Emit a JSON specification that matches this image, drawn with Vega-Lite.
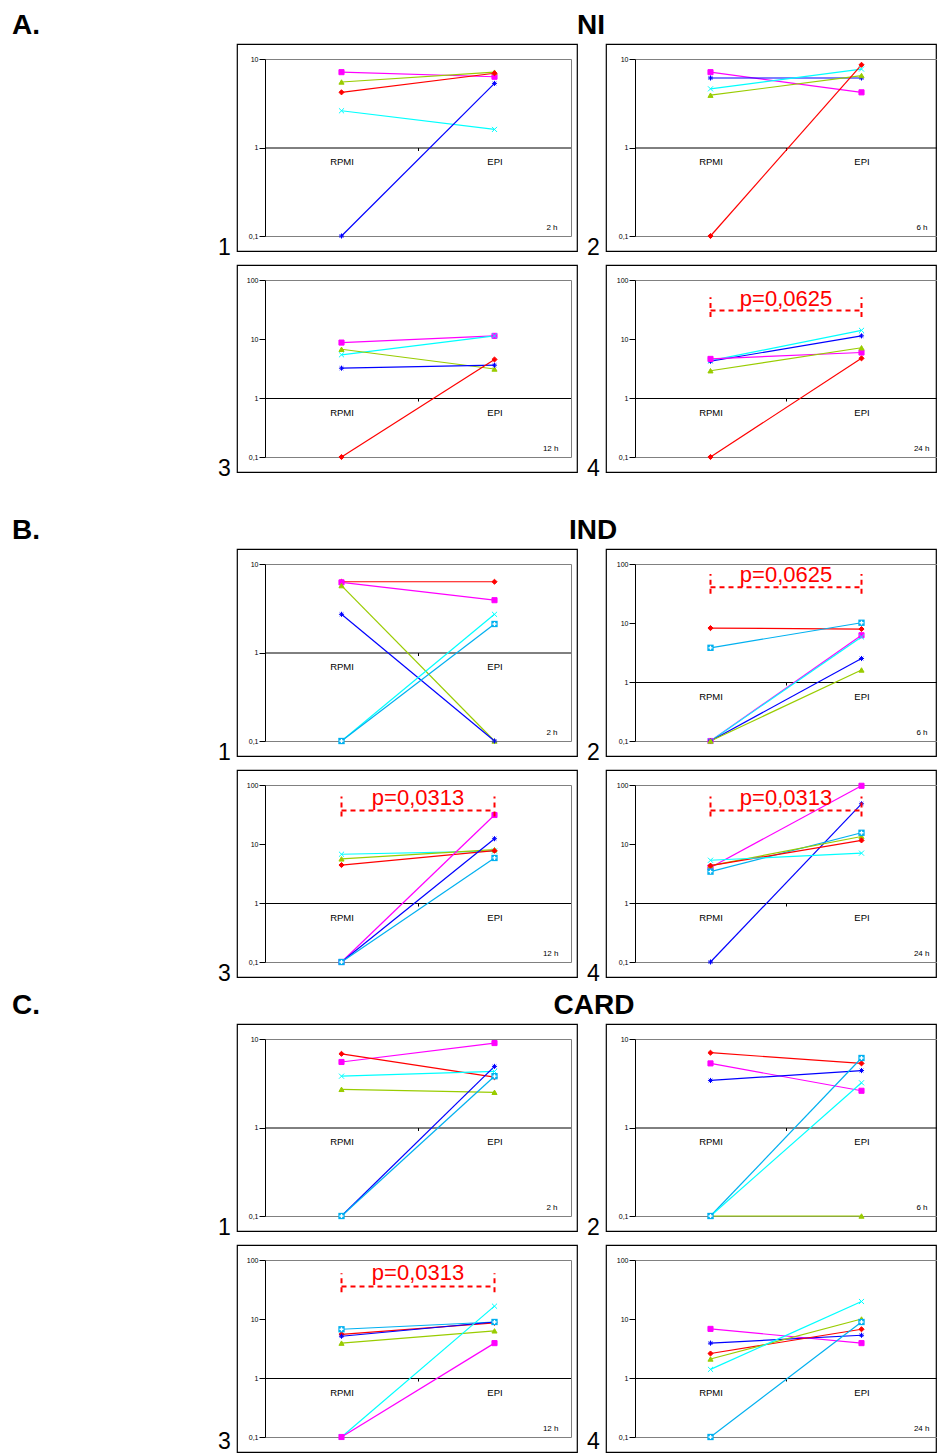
{
"$schema":"https://vega.github.io/schema/vega-lite/v6.json",
"padding":{"left":12,"top":10,"right":0,"bottom":0},
"autosize":{"type":"pad"},
"background":"white",
"config":{"font":"Liberation Sans","view":{"stroke":"#000","strokeWidth":1.2},"axis":{"grid":false},"title":{"color":"#000"}},
"datasets":{
"d":[
{"p":"A1","s":"m","c":"RPMI","v":7.1},{"p":"A1","s":"m","c":"EPI","v":6.3},
{"p":"A1","s":"g","c":"RPMI","v":5.5},{"p":"A1","s":"g","c":"EPI","v":7.1},
{"p":"A1","s":"r","c":"RPMI","v":4.2},{"p":"A1","s":"r","c":"EPI","v":6.9},
{"p":"A1","s":"c","c":"RPMI","v":2.6},{"p":"A1","s":"c","c":"EPI","v":1.6},
{"p":"A1","s":"b","c":"RPMI","v":0.1},{"p":"A1","s":"b","c":"EPI","v":5.3},
{"p":"A2","s":"m","c":"RPMI","v":7.1},{"p":"A2","s":"m","c":"EPI","v":4.2},
{"p":"A2","s":"b","c":"RPMI","v":6.1},{"p":"A2","s":"b","c":"EPI","v":6.1},
{"p":"A2","s":"c","c":"RPMI","v":4.6},{"p":"A2","s":"c","c":"EPI","v":7.7},
{"p":"A2","s":"g","c":"RPMI","v":3.9},{"p":"A2","s":"g","c":"EPI","v":6.5},
{"p":"A2","s":"r","c":"RPMI","v":0.1},{"p":"A2","s":"r","c":"EPI","v":8.6},
{"p":"A3","s":"m","c":"RPMI","v":8.7},{"p":"A3","s":"m","c":"EPI","v":11.3},
{"p":"A3","s":"c","c":"RPMI","v":5.4},{"p":"A3","s":"c","c":"EPI","v":11.3},
{"p":"A3","s":"g","c":"RPMI","v":6.7},{"p":"A3","s":"g","c":"EPI","v":3.1},
{"p":"A3","s":"b","c":"RPMI","v":3.2},{"p":"A3","s":"b","c":"EPI","v":3.6},
{"p":"A3","s":"r","c":"RPMI","v":0.1},{"p":"A3","s":"r","c":"EPI","v":4.5},
{"p":"A4","s":"c","c":"RPMI","v":4.3},{"p":"A4","s":"c","c":"EPI","v":14},
{"p":"A4","s":"b","c":"RPMI","v":4.2},{"p":"A4","s":"b","c":"EPI","v":11.3},
{"p":"A4","s":"m","c":"RPMI","v":4.6},{"p":"A4","s":"m","c":"EPI","v":5.9},
{"p":"A4","s":"g","c":"RPMI","v":2.9},{"p":"A4","s":"g","c":"EPI","v":7.1},
{"p":"A4","s":"r","c":"RPMI","v":0.1},{"p":"A4","s":"r","c":"EPI","v":4.7},
{"p":"B1","s":"r","c":"RPMI","v":6.3},{"p":"B1","s":"r","c":"EPI","v":6.3},
{"p":"B1","s":"m","c":"RPMI","v":6.2},{"p":"B1","s":"m","c":"EPI","v":3.9},
{"p":"B1","s":"g","c":"RPMI","v":5.7},{"p":"B1","s":"g","c":"EPI","v":0.1},
{"p":"B1","s":"b","c":"RPMI","v":2.7},{"p":"B1","s":"b","c":"EPI","v":0.1},
{"p":"B1","s":"c","c":"RPMI","v":0.1},{"p":"B1","s":"c","c":"EPI","v":2.7},
{"p":"B1","s":"lb","c":"RPMI","v":0.1},{"p":"B1","s":"lb","c":"EPI","v":2.1},
{"p":"B2","s":"r","c":"RPMI","v":8.2},{"p":"B2","s":"r","c":"EPI","v":7.9},
{"p":"B2","s":"lb","c":"RPMI","v":3.8},{"p":"B2","s":"lb","c":"EPI","v":10.1},
{"p":"B2","s":"m","c":"RPMI","v":0.1},{"p":"B2","s":"m","c":"EPI","v":6.2},
{"p":"B2","s":"c","c":"RPMI","v":0.1},{"p":"B2","s":"c","c":"EPI","v":5.8},
{"p":"B2","s":"b","c":"RPMI","v":0.1},{"p":"B2","s":"b","c":"EPI","v":2.5},
{"p":"B2","s":"g","c":"RPMI","v":0.1},{"p":"B2","s":"g","c":"EPI","v":1.6},
{"p":"B3","s":"c","c":"RPMI","v":6.7},{"p":"B3","s":"c","c":"EPI","v":7.6},
{"p":"B3","s":"g","c":"RPMI","v":5.6},{"p":"B3","s":"g","c":"EPI","v":8.0},
{"p":"B3","s":"r","c":"RPMI","v":4.4},{"p":"B3","s":"r","c":"EPI","v":7.7},
{"p":"B3","s":"m","c":"RPMI","v":0.1},{"p":"B3","s":"m","c":"EPI","v":31},
{"p":"B3","s":"b","c":"RPMI","v":0.1},{"p":"B3","s":"b","c":"EPI","v":12.3},
{"p":"B3","s":"lb","c":"RPMI","v":0.1},{"p":"B3","s":"lb","c":"EPI","v":5.8},
{"p":"B4","s":"m","c":"RPMI","v":4.0},{"p":"B4","s":"m","c":"EPI","v":97},
{"p":"B4","s":"b","c":"RPMI","v":0.1},{"p":"B4","s":"b","c":"EPI","v":48},
{"p":"B4","s":"lb","c":"RPMI","v":3.4},{"p":"B4","s":"lb","c":"EPI","v":15.5},
{"p":"B4","s":"g","c":"RPMI","v":4.3},{"p":"B4","s":"g","c":"EPI","v":13.4},
{"p":"B4","s":"r","c":"RPMI","v":4.3},{"p":"B4","s":"r","c":"EPI","v":11.5},
{"p":"B4","s":"c","c":"RPMI","v":5.3},{"p":"B4","s":"c","c":"EPI","v":7.0},
{"p":"C1","s":"m","c":"RPMI","v":5.5},{"p":"C1","s":"m","c":"EPI","v":9.0},
{"p":"C1","s":"r","c":"RPMI","v":6.8},{"p":"C1","s":"r","c":"EPI","v":3.7},
{"p":"C1","s":"c","c":"RPMI","v":3.8},{"p":"C1","s":"c","c":"EPI","v":4.3},
{"p":"C1","s":"g","c":"RPMI","v":2.7},{"p":"C1","s":"g","c":"EPI","v":2.5},
{"p":"C1","s":"b","c":"RPMI","v":0.1},{"p":"C1","s":"b","c":"EPI","v":4.9},
{"p":"C1","s":"lb","c":"RPMI","v":0.1},{"p":"C1","s":"lb","c":"EPI","v":3.8},
{"p":"C2","s":"r","c":"RPMI","v":7.0},{"p":"C2","s":"r","c":"EPI","v":5.3},
{"p":"C2","s":"m","c":"RPMI","v":5.3},{"p":"C2","s":"m","c":"EPI","v":2.6},
{"p":"C2","s":"b","c":"RPMI","v":3.4},{"p":"C2","s":"b","c":"EPI","v":4.4},
{"p":"C2","s":"lb","c":"RPMI","v":0.1},{"p":"C2","s":"lb","c":"EPI","v":6.1},
{"p":"C2","s":"c","c":"RPMI","v":0.1},{"p":"C2","s":"c","c":"EPI","v":3.2},
{"p":"C2","s":"g","c":"RPMI","v":0.1},{"p":"C2","s":"g","c":"EPI","v":0.1},
{"p":"C3","s":"lb","c":"RPMI","v":6.7},{"p":"C3","s":"lb","c":"EPI","v":8.9},
{"p":"C3","s":"r","c":"RPMI","v":5.5},{"p":"C3","s":"r","c":"EPI","v":8.6},
{"p":"C3","s":"b","c":"RPMI","v":5.1},{"p":"C3","s":"b","c":"EPI","v":8.9},
{"p":"C3","s":"g","c":"RPMI","v":3.9},{"p":"C3","s":"g","c":"EPI","v":6.3},
{"p":"C3","s":"c","c":"RPMI","v":0.1},{"p":"C3","s":"c","c":"EPI","v":16.5},
{"p":"C3","s":"m","c":"RPMI","v":0.1},{"p":"C3","s":"m","c":"EPI","v":3.9},
{"p":"C4","s":"m","c":"RPMI","v":6.8},{"p":"C4","s":"m","c":"EPI","v":3.9},
{"p":"C4","s":"b","c":"RPMI","v":3.9},{"p":"C4","s":"b","c":"EPI","v":5.3},
{"p":"C4","s":"r","c":"RPMI","v":2.6},{"p":"C4","s":"r","c":"EPI","v":6.7},
{"p":"C4","s":"g","c":"RPMI","v":2.1},{"p":"C4","s":"g","c":"EPI","v":10},
{"p":"C4","s":"c","c":"RPMI","v":1.4},{"p":"C4","s":"c","c":"EPI","v":19.8},
{"p":"C4","s":"lb","c":"RPMI","v":0.1},{"p":"C4","s":"lb","c":"EPI","v":8.9}
],
"br":[
{"p":"A4","c":"RPMI","lo":23.5,"mid":30.4,"hi":51,"ty":36,"txt":"p=0,0625"},
{"p":"A4","c":"EPI","lo":23.5,"mid":30.4,"hi":51,"ty":36,"txt":"p=0,0625"},
{"p":"B2","c":"RPMI","lo":31.2,"mid":40.5,"hi":68,"ty":49,"txt":"p=0,0625"},
{"p":"B2","c":"EPI","lo":31.2,"mid":40.5,"hi":68,"ty":49,"txt":"p=0,0625"},
{"p":"B3","c":"RPMI","lo":29.3,"mid":37,"hi":63.8,"ty":46,"txt":"p=0,0313"},
{"p":"B3","c":"EPI","lo":29.3,"mid":37,"hi":63.8,"ty":46,"txt":"p=0,0313"},
{"p":"B4","c":"RPMI","lo":29.3,"mid":37,"hi":63.8,"ty":46,"txt":"p=0,0313"},
{"p":"B4","c":"EPI","lo":29.3,"mid":37,"hi":63.8,"ty":46,"txt":"p=0,0313"},
{"p":"C3","c":"RPMI","lo":28.5,"mid":35.6,"hi":59.8,"ty":45,"txt":"p=0,0313"},
{"p":"C3","c":"EPI","lo":28.5,"mid":35.6,"hi":59.8,"ty":45,"txt":"p=0,0313"}
]
},
"bounds":"flush","align":"each","columns":2,"spacing":{"row":14,"column":29},
"concat":[
{"width":340,"height":20,"view":{"stroke":null,"fill":"#FFFFFF"},"data":{"values":[{}]},"mark":{"type":"point","opacity":0},
 "title":{"text":"A.","orient":"bottom","anchor":"start","frame":"group","dx":-225,"offset":4,"baseline":"alphabetic","fontSize":28,"fontWeight":"bold"}},
{"width":330,"height":20,"view":{"stroke":null,"fill":"#FFFFFF"},"data":{"values":[{}]},"mark":{"type":"point","opacity":0},
 "title":{"text":"NI","orient":"bottom","anchor":"start","align":"center","frame":"group","dx":-15,"offset":4,"baseline":"alphabetic","fontSize":28,"fontWeight":"bold"}},
{"width":340,"height":207,
 "title":{"text":"1","orient":"bottom","anchor":"start","frame":"group","dx":-19,"offset":4,"baseline":"alphabetic","fontSize":23,"fontWeight":"normal"},
 "resolve":{"axis":{"x":"independent","y":"independent"}},
 "layer":[
  {"data":{"name":"d"},"transform":[{"filter":"datum.p=='A1'"}],"mark":{"type":"line","strokeWidth":1.2},
   "encoding":{
    "x":{"field":"c","type":"nominal","scale":{"type":"band","domain":["RPMI","EPI"],"range":[28,334],"paddingInner":0,"paddingOuter":0},"axis":{"orient":"bottom","offset":-103.5,"title":null,"domainColor":"#000","tickColor":"#000","tickSize":3,"tickBand":"extent","labelFontSize":9.5,"labelColor":"#000","labelPadding":6,"labelAngle":0}},
    "y":{"field":"v","type":"quantitative","scale":{"type":"log","domain":[0.1,10],"range":[192,15]},"axis":{"orient":"left","offset":-28,"title":null,"values":[0.1,1,10],"labelExpr":"datum.value<0.5?'0,1':format(datum.value,'d')","labelFontSize":7,"labelColor":"#000","tickColor":"#000","tickSize":6,"labelPadding":1,"domainColor":"#000"}},
    "color":{"field":"s","type":"nominal","scale":{"domain":["r","m","g","c","b","lb"],"range":["#FF0000","#FF00FF","#99CC00","#00FFFF","#0000FF","#00B0F0"]},"legend":null}}},
  {"data":{"name":"d"},"transform":[{"filter":"datum.p=='A1' && datum.s!='lb'"}],"mark":{"type":"point","filled":true,"size":26,"strokeWidth":1,"opacity":1},
   "encoding":{
    "x":{"field":"c","type":"nominal","axis":{"orient":"top","offset":-15,"title":null,"labels":false,"ticks":false,"domainColor":"#808080"}},
    "y":{"field":"v","type":"quantitative","axis":{"orient":"right","offset":-6,"title":null,"labels":false,"ticks":false,"domainColor":"#808080"}},
    "color":{"field":"s","type":"nominal","legend":null},
    "stroke":{"field":"s","type":"nominal","scale":{"domain":["r","m","g","c","b","lb"],"range":["#FF0000","#FF00FF","#99CC00","#00FFFF","#0000FF","#00B0F0"]},"legend":null},
    "shape":{"field":"s","type":"nominal","scale":{"domain":["r","m","g","c","b"],"range":["diamond","square","triangle-up","M-1,-1L1,1M-1,1L1,-1","M-1,0L1,0M0,-1L0,1M-0.7,-0.7L0.7,0.7M-0.7,0.7L0.7,-0.7"]},"legend":null}}},
  {"data":{"name":"d"},"transform":[{"filter":"datum.p=='A1' && datum.s=='lb'"}],"mark":{"type":"point","shape":"square","filled":true,"size":40,"color":"#00B0F0","opacity":1},
   "encoding":{
    "x":{"field":"c","type":"nominal","axis":{"orient":"bottom","offset":-15,"labels":false,"ticks":false,"domainColor":"#808080","title":"2 h","titleX":320,"titleY":-7,"titleAlign":"right","titleBaseline":"alphabetic","titleFontSize":8,"titleFontWeight":"normal","titleColor":"#000"}},
    "y":{"field":"v","type":"quantitative","axis":null}}},
  {"data":{"name":"d"},"transform":[{"filter":"datum.p=='A1' && datum.s=='lb'"}],"mark":{"type":"point","shape":"M-1,0L1,0M0,-1L0,1","filled":false,"size":16,"stroke":"#FFFFFF","strokeWidth":1.3,"opacity":1},
   "encoding":{"x":{"field":"c","type":"nominal","axis":null},"y":{"field":"v","type":"quantitative","axis":null}}}
 ]},
{"width":330,"height":207,
 "title":{"text":"2","orient":"bottom","anchor":"start","frame":"group","dx":-19,"offset":4,"baseline":"alphabetic","fontSize":23,"fontWeight":"normal"},
 "resolve":{"axis":{"x":"independent","y":"independent"}},
 "layer":[
  {"data":{"name":"d"},"transform":[{"filter":"datum.p=='A2'"}],"mark":{"type":"line","strokeWidth":1.2},
   "encoding":{
    "x":{"field":"c","type":"nominal","scale":{"type":"band","domain":["RPMI","EPI"],"range":[29,331],"paddingInner":0,"paddingOuter":0},"axis":{"orient":"bottom","offset":-103.5,"title":null,"domainColor":"#000","tickColor":"#000","tickSize":3,"tickBand":"extent","labelFontSize":9.5,"labelColor":"#000","labelPadding":6,"labelAngle":0}},
    "y":{"field":"v","type":"quantitative","scale":{"type":"log","domain":[0.1,10],"range":[192,15]},"axis":{"orient":"left","offset":-29,"title":null,"values":[0.1,1,10],"labelExpr":"datum.value<0.5?'0,1':format(datum.value,'d')","labelFontSize":7,"labelColor":"#000","tickColor":"#000","tickSize":6,"labelPadding":1,"domainColor":"#000"}},
    "color":{"field":"s","type":"nominal","scale":{"domain":["r","m","g","c","b","lb"],"range":["#FF0000","#FF00FF","#99CC00","#00FFFF","#0000FF","#00B0F0"]},"legend":null}}},
  {"data":{"name":"d"},"transform":[{"filter":"datum.p=='A2' && datum.s!='lb'"}],"mark":{"type":"point","filled":true,"size":26,"strokeWidth":1,"opacity":1},
   "encoding":{
    "x":{"field":"c","type":"nominal","axis":{"orient":"top","offset":-15,"title":null,"labels":false,"ticks":false,"domainColor":"#808080"}},
    "y":{"field":"v","type":"quantitative","axis":null},
    "color":{"field":"s","type":"nominal","legend":null},
    "stroke":{"field":"s","type":"nominal","scale":{"domain":["r","m","g","c","b","lb"],"range":["#FF0000","#FF00FF","#99CC00","#00FFFF","#0000FF","#00B0F0"]},"legend":null},
    "shape":{"field":"s","type":"nominal","scale":{"domain":["r","m","g","c","b"],"range":["diamond","square","triangle-up","M-1,-1L1,1M-1,1L1,-1","M-1,0L1,0M0,-1L0,1M-0.7,-0.7L0.7,0.7M-0.7,0.7L0.7,-0.7"]},"legend":null}}},
  {"data":{"name":"d"},"transform":[{"filter":"datum.p=='A2' && datum.s=='lb'"}],"mark":{"type":"point","shape":"square","filled":true,"size":40,"color":"#00B0F0","opacity":1},
   "encoding":{
    "x":{"field":"c","type":"nominal","axis":{"orient":"bottom","offset":-15,"labels":false,"ticks":false,"domainColor":"#808080","title":"6 h","titleX":321,"titleY":-7,"titleAlign":"right","titleBaseline":"alphabetic","titleFontSize":8,"titleFontWeight":"normal","titleColor":"#000"}},
    "y":{"field":"v","type":"quantitative","axis":null}}},
  {"data":{"name":"d"},"transform":[{"filter":"datum.p=='A2' && datum.s=='lb'"}],"mark":{"type":"point","shape":"M-1,0L1,0M0,-1L0,1","filled":false,"size":16,"stroke":"#FFFFFF","strokeWidth":1.3,"opacity":1},
   "encoding":{"x":{"field":"c","type":"nominal","axis":null},"y":{"field":"v","type":"quantitative","axis":null}}}
 ]},
{"width":340,"height":207,
 "title":{"text":"3","orient":"bottom","anchor":"start","frame":"group","dx":-19,"offset":4,"baseline":"alphabetic","fontSize":23,"fontWeight":"normal"},
 "resolve":{"axis":{"x":"independent","y":"independent"}},
 "layer":[
  {"data":{"name":"d"},"transform":[{"filter":"datum.p=='A3'"}],"mark":{"type":"line","strokeWidth":1.2},
   "encoding":{
    "x":{"field":"c","type":"nominal","scale":{"type":"band","domain":["RPMI","EPI"],"range":[28,334],"paddingInner":0,"paddingOuter":0},"axis":{"orient":"bottom","offset":-74,"title":null,"domainColor":"#000","tickColor":"#000","tickSize":3,"tickBand":"extent","labelFontSize":9.5,"labelColor":"#000","labelPadding":6,"labelAngle":0}},
    "y":{"field":"v","type":"quantitative","scale":{"type":"log","domain":[0.1,100],"range":[192,15]},"axis":{"orient":"left","offset":-28,"title":null,"values":[0.1,1,10,100],"labelExpr":"datum.value<0.5?'0,1':format(datum.value,'d')","labelFontSize":7,"labelColor":"#000","tickColor":"#000","tickSize":6,"labelPadding":1,"domainColor":"#000"}},
    "color":{"field":"s","type":"nominal","scale":{"domain":["r","m","g","c","b","lb"],"range":["#FF0000","#FF00FF","#99CC00","#00FFFF","#0000FF","#00B0F0"]},"legend":null}}},
  {"data":{"name":"d"},"transform":[{"filter":"datum.p=='A3' && datum.s!='lb'"}],"mark":{"type":"point","filled":true,"size":26,"strokeWidth":1,"opacity":1},
   "encoding":{
    "x":{"field":"c","type":"nominal","axis":{"orient":"top","offset":-15,"title":null,"labels":false,"ticks":false,"domainColor":"#808080"}},
    "y":{"field":"v","type":"quantitative","axis":{"orient":"right","offset":-6,"title":null,"labels":false,"ticks":false,"domainColor":"#808080"}},
    "color":{"field":"s","type":"nominal","legend":null},
    "stroke":{"field":"s","type":"nominal","scale":{"domain":["r","m","g","c","b","lb"],"range":["#FF0000","#FF00FF","#99CC00","#00FFFF","#0000FF","#00B0F0"]},"legend":null},
    "shape":{"field":"s","type":"nominal","scale":{"domain":["r","m","g","c","b"],"range":["diamond","square","triangle-up","M-1,-1L1,1M-1,1L1,-1","M-1,0L1,0M0,-1L0,1M-0.7,-0.7L0.7,0.7M-0.7,0.7L0.7,-0.7"]},"legend":null}}},
  {"data":{"name":"d"},"transform":[{"filter":"datum.p=='A3' && datum.s=='lb'"}],"mark":{"type":"point","shape":"square","filled":true,"size":40,"color":"#00B0F0","opacity":1},
   "encoding":{
    "x":{"field":"c","type":"nominal","axis":{"orient":"bottom","offset":-15,"labels":false,"ticks":false,"domainColor":"#808080","title":"12 h","titleX":321,"titleY":-7,"titleAlign":"right","titleBaseline":"alphabetic","titleFontSize":8,"titleFontWeight":"normal","titleColor":"#000"}},
    "y":{"field":"v","type":"quantitative","axis":null}}},
  {"data":{"name":"d"},"transform":[{"filter":"datum.p=='A3' && datum.s=='lb'"}],"mark":{"type":"point","shape":"M-1,0L1,0M0,-1L0,1","filled":false,"size":16,"stroke":"#FFFFFF","strokeWidth":1.3,"opacity":1},
   "encoding":{"x":{"field":"c","type":"nominal","axis":null},"y":{"field":"v","type":"quantitative","axis":null}}}
 ]},
{"width":330,"height":207,
 "title":{"text":"4","orient":"bottom","anchor":"start","frame":"group","dx":-19,"offset":4,"baseline":"alphabetic","fontSize":23,"fontWeight":"normal"},
 "resolve":{"axis":{"x":"independent","y":"independent"}},
 "layer":[
  {"data":{"name":"d"},"transform":[{"filter":"datum.p=='A4'"}],"mark":{"type":"line","strokeWidth":1.2},
   "encoding":{
    "x":{"field":"c","type":"nominal","scale":{"type":"band","domain":["RPMI","EPI"],"range":[29,331],"paddingInner":0,"paddingOuter":0},"axis":{"orient":"bottom","offset":-74,"title":null,"domainColor":"#000","tickColor":"#000","tickSize":3,"tickBand":"extent","labelFontSize":9.5,"labelColor":"#000","labelPadding":6,"labelAngle":0}},
    "y":{"field":"v","type":"quantitative","scale":{"type":"log","domain":[0.1,100],"range":[192,15]},"axis":{"orient":"left","offset":-29,"title":null,"values":[0.1,1,10,100],"labelExpr":"datum.value<0.5?'0,1':format(datum.value,'d')","labelFontSize":7,"labelColor":"#000","tickColor":"#000","tickSize":6,"labelPadding":1,"domainColor":"#000"}},
    "color":{"field":"s","type":"nominal","scale":{"domain":["r","m","g","c","b","lb"],"range":["#FF0000","#FF00FF","#99CC00","#00FFFF","#0000FF","#00B0F0"]},"legend":null}}},
  {"data":{"name":"d"},"transform":[{"filter":"datum.p=='A4' && datum.s!='lb'"}],"mark":{"type":"point","filled":true,"size":26,"strokeWidth":1,"opacity":1},
   "encoding":{
    "x":{"field":"c","type":"nominal","axis":{"orient":"top","offset":-15,"title":null,"labels":false,"ticks":false,"domainColor":"#808080"}},
    "y":{"field":"v","type":"quantitative","axis":null},
    "color":{"field":"s","type":"nominal","legend":null},
    "stroke":{"field":"s","type":"nominal","scale":{"domain":["r","m","g","c","b","lb"],"range":["#FF0000","#FF00FF","#99CC00","#00FFFF","#0000FF","#00B0F0"]},"legend":null},
    "shape":{"field":"s","type":"nominal","scale":{"domain":["r","m","g","c","b"],"range":["diamond","square","triangle-up","M-1,-1L1,1M-1,1L1,-1","M-1,0L1,0M0,-1L0,1M-0.7,-0.7L0.7,0.7M-0.7,0.7L0.7,-0.7"]},"legend":null}}},
  {"data":{"name":"d"},"transform":[{"filter":"datum.p=='A4' && datum.s=='lb'"}],"mark":{"type":"point","shape":"square","filled":true,"size":40,"color":"#00B0F0","opacity":1},
   "encoding":{
    "x":{"field":"c","type":"nominal","axis":{"orient":"bottom","offset":-15,"labels":false,"ticks":false,"domainColor":"#808080","title":"24 h","titleX":323,"titleY":-7,"titleAlign":"right","titleBaseline":"alphabetic","titleFontSize":8,"titleFontWeight":"normal","titleColor":"#000"}},
    "y":{"field":"v","type":"quantitative","axis":null}}},
  {"data":{"name":"d"},"transform":[{"filter":"datum.p=='A4' && datum.s=='lb'"}],"mark":{"type":"point","shape":"M-1,0L1,0M0,-1L0,1","filled":false,"size":16,"stroke":"#FFFFFF","strokeWidth":1.3,"opacity":1},
   "encoding":{"x":{"field":"c","type":"nominal","axis":null},"y":{"field":"v","type":"quantitative","axis":null}}},
  {"data":{"name":"br"},"transform":[{"filter":"datum.p=='A4'"}],"mark":{"type":"rule","color":"#FF0000","strokeWidth":2,"strokeDash":[5,4]},
   "encoding":{"x":{"field":"c","type":"nominal","axis":null},"y":{"field":"lo","type":"quantitative","axis":null},"y2":{"field":"hi"}}},
  {"data":{"name":"br"},"transform":[{"filter":"datum.p=='A4'"}],"mark":{"type":"line","color":"#FF0000","strokeWidth":2,"strokeDash":[5,4]},
   "encoding":{"x":{"field":"c","type":"nominal","axis":null},"y":{"field":"mid","type":"quantitative","axis":null}}},
  {"data":{"name":"br"},"transform":[{"filter":"datum.p=='A4' && datum.c=='EPI'"}],"mark":{"type":"text","color":"#FF0000","fontSize":22,"baseline":"alphabetic","align":"center"},
   "encoding":{"x":{"field":"c","type":"nominal","bandPosition":0,"axis":null},"y":{"field":"ty","type":"quantitative","axis":null},"text":{"field":"txt"}}}
 ]},
{"width":340,"height":49,"view":{"stroke":null,"fill":"#FFFFFF"},"data":{"values":[{}]},"mark":{"type":"point","opacity":0},
 "title":{"text":"B.","orient":"bottom","anchor":"start","frame":"group","dx":-225,"offset":4,"baseline":"alphabetic","fontSize":28,"fontWeight":"bold"}},
{"width":330,"height":49,"view":{"stroke":null,"fill":"#FFFFFF"},"data":{"values":[{}]},"mark":{"type":"point","opacity":0},
 "title":{"text":"IND","orient":"bottom","anchor":"start","align":"center","frame":"group","dx":-13,"offset":4,"baseline":"alphabetic","fontSize":28,"fontWeight":"bold"}},
{"width":340,"height":207,
 "title":{"text":"1","orient":"bottom","anchor":"start","frame":"group","dx":-19,"offset":4,"baseline":"alphabetic","fontSize":23,"fontWeight":"normal"},
 "resolve":{"axis":{"x":"independent","y":"independent"}},
 "layer":[
  {"data":{"name":"d"},"transform":[{"filter":"datum.p=='B1'"}],"mark":{"type":"line","strokeWidth":1.2},
   "encoding":{
    "x":{"field":"c","type":"nominal","scale":{"type":"band","domain":["RPMI","EPI"],"range":[28,334],"paddingInner":0,"paddingOuter":0},"axis":{"orient":"bottom","offset":-103.5,"title":null,"domainColor":"#000","tickColor":"#000","tickSize":3,"tickBand":"extent","labelFontSize":9.5,"labelColor":"#000","labelPadding":6,"labelAngle":0}},
    "y":{"field":"v","type":"quantitative","scale":{"type":"log","domain":[0.1,10],"range":[192,15]},"axis":{"orient":"left","offset":-28,"title":null,"values":[0.1,1,10],"labelExpr":"datum.value<0.5?'0,1':format(datum.value,'d')","labelFontSize":7,"labelColor":"#000","tickColor":"#000","tickSize":6,"labelPadding":1,"domainColor":"#000"}},
    "color":{"field":"s","type":"nominal","scale":{"domain":["r","m","g","c","b","lb"],"range":["#FF0000","#FF00FF","#99CC00","#00FFFF","#0000FF","#00B0F0"]},"legend":null}}},
  {"data":{"name":"d"},"transform":[{"filter":"datum.p=='B1' && datum.s!='lb'"}],"mark":{"type":"point","filled":true,"size":26,"strokeWidth":1,"opacity":1},
   "encoding":{
    "x":{"field":"c","type":"nominal","axis":{"orient":"top","offset":-15,"title":null,"labels":false,"ticks":false,"domainColor":"#808080"}},
    "y":{"field":"v","type":"quantitative","axis":{"orient":"right","offset":-6,"title":null,"labels":false,"ticks":false,"domainColor":"#808080"}},
    "color":{"field":"s","type":"nominal","legend":null},
    "stroke":{"field":"s","type":"nominal","scale":{"domain":["r","m","g","c","b","lb"],"range":["#FF0000","#FF00FF","#99CC00","#00FFFF","#0000FF","#00B0F0"]},"legend":null},
    "shape":{"field":"s","type":"nominal","scale":{"domain":["r","m","g","c","b"],"range":["diamond","square","triangle-up","M-1,-1L1,1M-1,1L1,-1","M-1,0L1,0M0,-1L0,1M-0.7,-0.7L0.7,0.7M-0.7,0.7L0.7,-0.7"]},"legend":null}}},
  {"data":{"name":"d"},"transform":[{"filter":"datum.p=='B1' && datum.s=='lb'"}],"mark":{"type":"point","shape":"square","filled":true,"size":40,"color":"#00B0F0","opacity":1},
   "encoding":{
    "x":{"field":"c","type":"nominal","axis":{"orient":"bottom","offset":-15,"labels":false,"ticks":false,"domainColor":"#808080","title":"2 h","titleX":320,"titleY":-7,"titleAlign":"right","titleBaseline":"alphabetic","titleFontSize":8,"titleFontWeight":"normal","titleColor":"#000"}},
    "y":{"field":"v","type":"quantitative","axis":null}}},
  {"data":{"name":"d"},"transform":[{"filter":"datum.p=='B1' && datum.s=='lb'"}],"mark":{"type":"point","shape":"M-1,0L1,0M0,-1L0,1","filled":false,"size":16,"stroke":"#FFFFFF","strokeWidth":1.3,"opacity":1},
   "encoding":{"x":{"field":"c","type":"nominal","axis":null},"y":{"field":"v","type":"quantitative","axis":null}}}
 ]},
{"width":330,"height":207,
 "title":{"text":"2","orient":"bottom","anchor":"start","frame":"group","dx":-19,"offset":4,"baseline":"alphabetic","fontSize":23,"fontWeight":"normal"},
 "resolve":{"axis":{"x":"independent","y":"independent"}},
 "layer":[
  {"data":{"name":"d"},"transform":[{"filter":"datum.p=='B2'"}],"mark":{"type":"line","strokeWidth":1.2},
   "encoding":{
    "x":{"field":"c","type":"nominal","scale":{"type":"band","domain":["RPMI","EPI"],"range":[29,331],"paddingInner":0,"paddingOuter":0},"axis":{"orient":"bottom","offset":-74,"title":null,"domainColor":"#000","tickColor":"#000","tickSize":3,"tickBand":"extent","labelFontSize":9.5,"labelColor":"#000","labelPadding":6,"labelAngle":0}},
    "y":{"field":"v","type":"quantitative","scale":{"type":"log","domain":[0.1,100],"range":[192,15]},"axis":{"orient":"left","offset":-29,"title":null,"values":[0.1,1,10,100],"labelExpr":"datum.value<0.5?'0,1':format(datum.value,'d')","labelFontSize":7,"labelColor":"#000","tickColor":"#000","tickSize":6,"labelPadding":1,"domainColor":"#000"}},
    "color":{"field":"s","type":"nominal","scale":{"domain":["r","m","g","c","b","lb"],"range":["#FF0000","#FF00FF","#99CC00","#00FFFF","#0000FF","#00B0F0"]},"legend":null}}},
  {"data":{"name":"d"},"transform":[{"filter":"datum.p=='B2' && datum.s!='lb'"}],"mark":{"type":"point","filled":true,"size":26,"strokeWidth":1,"opacity":1},
   "encoding":{
    "x":{"field":"c","type":"nominal","axis":{"orient":"top","offset":-15,"title":null,"labels":false,"ticks":false,"domainColor":"#808080"}},
    "y":{"field":"v","type":"quantitative","axis":null},
    "color":{"field":"s","type":"nominal","legend":null},
    "stroke":{"field":"s","type":"nominal","scale":{"domain":["r","m","g","c","b","lb"],"range":["#FF0000","#FF00FF","#99CC00","#00FFFF","#0000FF","#00B0F0"]},"legend":null},
    "shape":{"field":"s","type":"nominal","scale":{"domain":["r","m","g","c","b"],"range":["diamond","square","triangle-up","M-1,-1L1,1M-1,1L1,-1","M-1,0L1,0M0,-1L0,1M-0.7,-0.7L0.7,0.7M-0.7,0.7L0.7,-0.7"]},"legend":null}}},
  {"data":{"name":"d"},"transform":[{"filter":"datum.p=='B2' && datum.s=='lb'"}],"mark":{"type":"point","shape":"square","filled":true,"size":40,"color":"#00B0F0","opacity":1},
   "encoding":{
    "x":{"field":"c","type":"nominal","axis":{"orient":"bottom","offset":-15,"labels":false,"ticks":false,"domainColor":"#808080","title":"6 h","titleX":321,"titleY":-7,"titleAlign":"right","titleBaseline":"alphabetic","titleFontSize":8,"titleFontWeight":"normal","titleColor":"#000"}},
    "y":{"field":"v","type":"quantitative","axis":null}}},
  {"data":{"name":"d"},"transform":[{"filter":"datum.p=='B2' && datum.s=='lb'"}],"mark":{"type":"point","shape":"M-1,0L1,0M0,-1L0,1","filled":false,"size":16,"stroke":"#FFFFFF","strokeWidth":1.3,"opacity":1},
   "encoding":{"x":{"field":"c","type":"nominal","axis":null},"y":{"field":"v","type":"quantitative","axis":null}}},
  {"data":{"name":"br"},"transform":[{"filter":"datum.p=='B2'"}],"mark":{"type":"rule","color":"#FF0000","strokeWidth":2,"strokeDash":[5,4]},
   "encoding":{"x":{"field":"c","type":"nominal","axis":null},"y":{"field":"lo","type":"quantitative","axis":null},"y2":{"field":"hi"}}},
  {"data":{"name":"br"},"transform":[{"filter":"datum.p=='B2'"}],"mark":{"type":"line","color":"#FF0000","strokeWidth":2,"strokeDash":[5,4]},
   "encoding":{"x":{"field":"c","type":"nominal","axis":null},"y":{"field":"mid","type":"quantitative","axis":null}}},
  {"data":{"name":"br"},"transform":[{"filter":"datum.p=='B2' && datum.c=='EPI'"}],"mark":{"type":"text","color":"#FF0000","fontSize":22,"baseline":"alphabetic","align":"center"},
   "encoding":{"x":{"field":"c","type":"nominal","bandPosition":0,"axis":null},"y":{"field":"ty","type":"quantitative","axis":null},"text":{"field":"txt"}}}
 ]},
{"width":340,"height":207,
 "title":{"text":"3","orient":"bottom","anchor":"start","frame":"group","dx":-19,"offset":4,"baseline":"alphabetic","fontSize":23,"fontWeight":"normal"},
 "resolve":{"axis":{"x":"independent","y":"independent"}},
 "layer":[
  {"data":{"name":"d"},"transform":[{"filter":"datum.p=='B3'"}],"mark":{"type":"line","strokeWidth":1.2},
   "encoding":{
    "x":{"field":"c","type":"nominal","scale":{"type":"band","domain":["RPMI","EPI"],"range":[28,334],"paddingInner":0,"paddingOuter":0},"axis":{"orient":"bottom","offset":-74,"title":null,"domainColor":"#000","tickColor":"#000","tickSize":3,"tickBand":"extent","labelFontSize":9.5,"labelColor":"#000","labelPadding":6,"labelAngle":0}},
    "y":{"field":"v","type":"quantitative","scale":{"type":"log","domain":[0.1,100],"range":[192,15]},"axis":{"orient":"left","offset":-28,"title":null,"values":[0.1,1,10,100],"labelExpr":"datum.value<0.5?'0,1':format(datum.value,'d')","labelFontSize":7,"labelColor":"#000","tickColor":"#000","tickSize":6,"labelPadding":1,"domainColor":"#000"}},
    "color":{"field":"s","type":"nominal","scale":{"domain":["r","m","g","c","b","lb"],"range":["#FF0000","#FF00FF","#99CC00","#00FFFF","#0000FF","#00B0F0"]},"legend":null}}},
  {"data":{"name":"d"},"transform":[{"filter":"datum.p=='B3' && datum.s!='lb'"}],"mark":{"type":"point","filled":true,"size":26,"strokeWidth":1,"opacity":1},
   "encoding":{
    "x":{"field":"c","type":"nominal","axis":{"orient":"top","offset":-15,"title":null,"labels":false,"ticks":false,"domainColor":"#808080"}},
    "y":{"field":"v","type":"quantitative","axis":{"orient":"right","offset":-6,"title":null,"labels":false,"ticks":false,"domainColor":"#808080"}},
    "color":{"field":"s","type":"nominal","legend":null},
    "stroke":{"field":"s","type":"nominal","scale":{"domain":["r","m","g","c","b","lb"],"range":["#FF0000","#FF00FF","#99CC00","#00FFFF","#0000FF","#00B0F0"]},"legend":null},
    "shape":{"field":"s","type":"nominal","scale":{"domain":["r","m","g","c","b"],"range":["diamond","square","triangle-up","M-1,-1L1,1M-1,1L1,-1","M-1,0L1,0M0,-1L0,1M-0.7,-0.7L0.7,0.7M-0.7,0.7L0.7,-0.7"]},"legend":null}}},
  {"data":{"name":"d"},"transform":[{"filter":"datum.p=='B3' && datum.s=='lb'"}],"mark":{"type":"point","shape":"square","filled":true,"size":40,"color":"#00B0F0","opacity":1},
   "encoding":{
    "x":{"field":"c","type":"nominal","axis":{"orient":"bottom","offset":-15,"labels":false,"ticks":false,"domainColor":"#808080","title":"12 h","titleX":321,"titleY":-7,"titleAlign":"right","titleBaseline":"alphabetic","titleFontSize":8,"titleFontWeight":"normal","titleColor":"#000"}},
    "y":{"field":"v","type":"quantitative","axis":null}}},
  {"data":{"name":"d"},"transform":[{"filter":"datum.p=='B3' && datum.s=='lb'"}],"mark":{"type":"point","shape":"M-1,0L1,0M0,-1L0,1","filled":false,"size":16,"stroke":"#FFFFFF","strokeWidth":1.3,"opacity":1},
   "encoding":{"x":{"field":"c","type":"nominal","axis":null},"y":{"field":"v","type":"quantitative","axis":null}}},
  {"data":{"name":"br"},"transform":[{"filter":"datum.p=='B3'"}],"mark":{"type":"rule","color":"#FF0000","strokeWidth":2,"strokeDash":[5,4]},
   "encoding":{"x":{"field":"c","type":"nominal","axis":null},"y":{"field":"lo","type":"quantitative","axis":null},"y2":{"field":"hi"}}},
  {"data":{"name":"br"},"transform":[{"filter":"datum.p=='B3'"}],"mark":{"type":"line","color":"#FF0000","strokeWidth":2,"strokeDash":[5,4]},
   "encoding":{"x":{"field":"c","type":"nominal","axis":null},"y":{"field":"mid","type":"quantitative","axis":null}}},
  {"data":{"name":"br"},"transform":[{"filter":"datum.p=='B3' && datum.c=='EPI'"}],"mark":{"type":"text","color":"#FF0000","fontSize":22,"baseline":"alphabetic","align":"center"},
   "encoding":{"x":{"field":"c","type":"nominal","bandPosition":0,"axis":null},"y":{"field":"ty","type":"quantitative","axis":null},"text":{"field":"txt"}}}
 ]},
{"width":330,"height":207,
 "title":{"text":"4","orient":"bottom","anchor":"start","frame":"group","dx":-19,"offset":4,"baseline":"alphabetic","fontSize":23,"fontWeight":"normal"},
 "resolve":{"axis":{"x":"independent","y":"independent"}},
 "layer":[
  {"data":{"name":"d"},"transform":[{"filter":"datum.p=='B4'"}],"mark":{"type":"line","strokeWidth":1.2},
   "encoding":{
    "x":{"field":"c","type":"nominal","scale":{"type":"band","domain":["RPMI","EPI"],"range":[29,331],"paddingInner":0,"paddingOuter":0},"axis":{"orient":"bottom","offset":-74,"title":null,"domainColor":"#000","tickColor":"#000","tickSize":3,"tickBand":"extent","labelFontSize":9.5,"labelColor":"#000","labelPadding":6,"labelAngle":0}},
    "y":{"field":"v","type":"quantitative","scale":{"type":"log","domain":[0.1,100],"range":[192,15]},"axis":{"orient":"left","offset":-29,"title":null,"values":[0.1,1,10,100],"labelExpr":"datum.value<0.5?'0,1':format(datum.value,'d')","labelFontSize":7,"labelColor":"#000","tickColor":"#000","tickSize":6,"labelPadding":1,"domainColor":"#000"}},
    "color":{"field":"s","type":"nominal","scale":{"domain":["r","m","g","c","b","lb"],"range":["#FF0000","#FF00FF","#99CC00","#00FFFF","#0000FF","#00B0F0"]},"legend":null}}},
  {"data":{"name":"d"},"transform":[{"filter":"datum.p=='B4' && datum.s!='lb'"}],"mark":{"type":"point","filled":true,"size":26,"strokeWidth":1,"opacity":1},
   "encoding":{
    "x":{"field":"c","type":"nominal","axis":{"orient":"top","offset":-15,"title":null,"labels":false,"ticks":false,"domainColor":"#808080"}},
    "y":{"field":"v","type":"quantitative","axis":null},
    "color":{"field":"s","type":"nominal","legend":null},
    "stroke":{"field":"s","type":"nominal","scale":{"domain":["r","m","g","c","b","lb"],"range":["#FF0000","#FF00FF","#99CC00","#00FFFF","#0000FF","#00B0F0"]},"legend":null},
    "shape":{"field":"s","type":"nominal","scale":{"domain":["r","m","g","c","b"],"range":["diamond","square","triangle-up","M-1,-1L1,1M-1,1L1,-1","M-1,0L1,0M0,-1L0,1M-0.7,-0.7L0.7,0.7M-0.7,0.7L0.7,-0.7"]},"legend":null}}},
  {"data":{"name":"d"},"transform":[{"filter":"datum.p=='B4' && datum.s=='lb'"}],"mark":{"type":"point","shape":"square","filled":true,"size":40,"color":"#00B0F0","opacity":1},
   "encoding":{
    "x":{"field":"c","type":"nominal","axis":{"orient":"bottom","offset":-15,"labels":false,"ticks":false,"domainColor":"#808080","title":"24 h","titleX":323,"titleY":-7,"titleAlign":"right","titleBaseline":"alphabetic","titleFontSize":8,"titleFontWeight":"normal","titleColor":"#000"}},
    "y":{"field":"v","type":"quantitative","axis":null}}},
  {"data":{"name":"d"},"transform":[{"filter":"datum.p=='B4' && datum.s=='lb'"}],"mark":{"type":"point","shape":"M-1,0L1,0M0,-1L0,1","filled":false,"size":16,"stroke":"#FFFFFF","strokeWidth":1.3,"opacity":1},
   "encoding":{"x":{"field":"c","type":"nominal","axis":null},"y":{"field":"v","type":"quantitative","axis":null}}},
  {"data":{"name":"br"},"transform":[{"filter":"datum.p=='B4'"}],"mark":{"type":"rule","color":"#FF0000","strokeWidth":2,"strokeDash":[5,4]},
   "encoding":{"x":{"field":"c","type":"nominal","axis":null},"y":{"field":"lo","type":"quantitative","axis":null},"y2":{"field":"hi"}}},
  {"data":{"name":"br"},"transform":[{"filter":"datum.p=='B4'"}],"mark":{"type":"line","color":"#FF0000","strokeWidth":2,"strokeDash":[5,4]},
   "encoding":{"x":{"field":"c","type":"nominal","axis":null},"y":{"field":"mid","type":"quantitative","axis":null}}},
  {"data":{"name":"br"},"transform":[{"filter":"datum.p=='B4' && datum.c=='EPI'"}],"mark":{"type":"text","color":"#FF0000","fontSize":22,"baseline":"alphabetic","align":"center"},
   "encoding":{"x":{"field":"c","type":"nominal","bandPosition":0,"axis":null},"y":{"field":"ty","type":"quantitative","axis":null},"text":{"field":"txt"}}}
 ]},
{"width":340,"height":19,"view":{"stroke":null,"fill":"#FFFFFF"},"data":{"values":[{}]},"mark":{"type":"point","opacity":0},
 "title":{"text":"C.","orient":"bottom","anchor":"start","frame":"group","dx":-225,"offset":4,"baseline":"alphabetic","fontSize":28,"fontWeight":"bold"}},
{"width":330,"height":19,"view":{"stroke":null,"fill":"#FFFFFF"},"data":{"values":[{}]},"mark":{"type":"point","opacity":0},
 "title":{"text":"CARD","orient":"bottom","anchor":"start","align":"center","frame":"group","dx":-12,"offset":4,"baseline":"alphabetic","fontSize":28,"fontWeight":"bold"}},
{"width":340,"height":207,
 "title":{"text":"1","orient":"bottom","anchor":"start","frame":"group","dx":-19,"offset":4,"baseline":"alphabetic","fontSize":23,"fontWeight":"normal"},
 "resolve":{"axis":{"x":"independent","y":"independent"}},
 "layer":[
  {"data":{"name":"d"},"transform":[{"filter":"datum.p=='C1'"}],"mark":{"type":"line","strokeWidth":1.2},
   "encoding":{
    "x":{"field":"c","type":"nominal","scale":{"type":"band","domain":["RPMI","EPI"],"range":[28,334],"paddingInner":0,"paddingOuter":0},"axis":{"orient":"bottom","offset":-103.5,"title":null,"domainColor":"#000","tickColor":"#000","tickSize":3,"tickBand":"extent","labelFontSize":9.5,"labelColor":"#000","labelPadding":6,"labelAngle":0}},
    "y":{"field":"v","type":"quantitative","scale":{"type":"log","domain":[0.1,10],"range":[192,15]},"axis":{"orient":"left","offset":-28,"title":null,"values":[0.1,1,10],"labelExpr":"datum.value<0.5?'0,1':format(datum.value,'d')","labelFontSize":7,"labelColor":"#000","tickColor":"#000","tickSize":6,"labelPadding":1,"domainColor":"#000"}},
    "color":{"field":"s","type":"nominal","scale":{"domain":["r","m","g","c","b","lb"],"range":["#FF0000","#FF00FF","#99CC00","#00FFFF","#0000FF","#00B0F0"]},"legend":null}}},
  {"data":{"name":"d"},"transform":[{"filter":"datum.p=='C1' && datum.s!='lb'"}],"mark":{"type":"point","filled":true,"size":26,"strokeWidth":1,"opacity":1},
   "encoding":{
    "x":{"field":"c","type":"nominal","axis":{"orient":"top","offset":-15,"title":null,"labels":false,"ticks":false,"domainColor":"#808080"}},
    "y":{"field":"v","type":"quantitative","axis":{"orient":"right","offset":-6,"title":null,"labels":false,"ticks":false,"domainColor":"#808080"}},
    "color":{"field":"s","type":"nominal","legend":null},
    "stroke":{"field":"s","type":"nominal","scale":{"domain":["r","m","g","c","b","lb"],"range":["#FF0000","#FF00FF","#99CC00","#00FFFF","#0000FF","#00B0F0"]},"legend":null},
    "shape":{"field":"s","type":"nominal","scale":{"domain":["r","m","g","c","b"],"range":["diamond","square","triangle-up","M-1,-1L1,1M-1,1L1,-1","M-1,0L1,0M0,-1L0,1M-0.7,-0.7L0.7,0.7M-0.7,0.7L0.7,-0.7"]},"legend":null}}},
  {"data":{"name":"d"},"transform":[{"filter":"datum.p=='C1' && datum.s=='lb'"}],"mark":{"type":"point","shape":"square","filled":true,"size":40,"color":"#00B0F0","opacity":1},
   "encoding":{
    "x":{"field":"c","type":"nominal","axis":{"orient":"bottom","offset":-15,"labels":false,"ticks":false,"domainColor":"#808080","title":"2 h","titleX":320,"titleY":-7,"titleAlign":"right","titleBaseline":"alphabetic","titleFontSize":8,"titleFontWeight":"normal","titleColor":"#000"}},
    "y":{"field":"v","type":"quantitative","axis":null}}},
  {"data":{"name":"d"},"transform":[{"filter":"datum.p=='C1' && datum.s=='lb'"}],"mark":{"type":"point","shape":"M-1,0L1,0M0,-1L0,1","filled":false,"size":16,"stroke":"#FFFFFF","strokeWidth":1.3,"opacity":1},
   "encoding":{"x":{"field":"c","type":"nominal","axis":null},"y":{"field":"v","type":"quantitative","axis":null}}}
 ]},
{"width":330,"height":207,
 "title":{"text":"2","orient":"bottom","anchor":"start","frame":"group","dx":-19,"offset":4,"baseline":"alphabetic","fontSize":23,"fontWeight":"normal"},
 "resolve":{"axis":{"x":"independent","y":"independent"}},
 "layer":[
  {"data":{"name":"d"},"transform":[{"filter":"datum.p=='C2'"}],"mark":{"type":"line","strokeWidth":1.2},
   "encoding":{
    "x":{"field":"c","type":"nominal","scale":{"type":"band","domain":["RPMI","EPI"],"range":[29,331],"paddingInner":0,"paddingOuter":0},"axis":{"orient":"bottom","offset":-103.5,"title":null,"domainColor":"#000","tickColor":"#000","tickSize":3,"tickBand":"extent","labelFontSize":9.5,"labelColor":"#000","labelPadding":6,"labelAngle":0}},
    "y":{"field":"v","type":"quantitative","scale":{"type":"log","domain":[0.1,10],"range":[192,15]},"axis":{"orient":"left","offset":-29,"title":null,"values":[0.1,1,10],"labelExpr":"datum.value<0.5?'0,1':format(datum.value,'d')","labelFontSize":7,"labelColor":"#000","tickColor":"#000","tickSize":6,"labelPadding":1,"domainColor":"#000"}},
    "color":{"field":"s","type":"nominal","scale":{"domain":["r","m","g","c","b","lb"],"range":["#FF0000","#FF00FF","#99CC00","#00FFFF","#0000FF","#00B0F0"]},"legend":null}}},
  {"data":{"name":"d"},"transform":[{"filter":"datum.p=='C2' && datum.s!='lb'"}],"mark":{"type":"point","filled":true,"size":26,"strokeWidth":1,"opacity":1},
   "encoding":{
    "x":{"field":"c","type":"nominal","axis":{"orient":"top","offset":-15,"title":null,"labels":false,"ticks":false,"domainColor":"#808080"}},
    "y":{"field":"v","type":"quantitative","axis":null},
    "color":{"field":"s","type":"nominal","legend":null},
    "stroke":{"field":"s","type":"nominal","scale":{"domain":["r","m","g","c","b","lb"],"range":["#FF0000","#FF00FF","#99CC00","#00FFFF","#0000FF","#00B0F0"]},"legend":null},
    "shape":{"field":"s","type":"nominal","scale":{"domain":["r","m","g","c","b"],"range":["diamond","square","triangle-up","M-1,-1L1,1M-1,1L1,-1","M-1,0L1,0M0,-1L0,1M-0.7,-0.7L0.7,0.7M-0.7,0.7L0.7,-0.7"]},"legend":null}}},
  {"data":{"name":"d"},"transform":[{"filter":"datum.p=='C2' && datum.s=='lb'"}],"mark":{"type":"point","shape":"square","filled":true,"size":40,"color":"#00B0F0","opacity":1},
   "encoding":{
    "x":{"field":"c","type":"nominal","axis":{"orient":"bottom","offset":-15,"labels":false,"ticks":false,"domainColor":"#808080","title":"6 h","titleX":321,"titleY":-7,"titleAlign":"right","titleBaseline":"alphabetic","titleFontSize":8,"titleFontWeight":"normal","titleColor":"#000"}},
    "y":{"field":"v","type":"quantitative","axis":null}}},
  {"data":{"name":"d"},"transform":[{"filter":"datum.p=='C2' && datum.s=='lb'"}],"mark":{"type":"point","shape":"M-1,0L1,0M0,-1L0,1","filled":false,"size":16,"stroke":"#FFFFFF","strokeWidth":1.3,"opacity":1},
   "encoding":{"x":{"field":"c","type":"nominal","axis":null},"y":{"field":"v","type":"quantitative","axis":null}}}
 ]},
{"width":340,"height":207,
 "title":{"text":"3","orient":"bottom","anchor":"start","frame":"group","dx":-19,"offset":-3,"baseline":"alphabetic","fontSize":23,"fontWeight":"normal"},
 "resolve":{"axis":{"x":"independent","y":"independent"}},
 "layer":[
  {"data":{"name":"d"},"transform":[{"filter":"datum.p=='C3'"}],"mark":{"type":"line","strokeWidth":1.2},
   "encoding":{
    "x":{"field":"c","type":"nominal","scale":{"type":"band","domain":["RPMI","EPI"],"range":[28,334],"paddingInner":0,"paddingOuter":0},"axis":{"orient":"bottom","offset":-74,"title":null,"domainColor":"#000","tickColor":"#000","tickSize":3,"tickBand":"extent","labelFontSize":9.5,"labelColor":"#000","labelPadding":6,"labelAngle":0}},
    "y":{"field":"v","type":"quantitative","scale":{"type":"log","domain":[0.1,100],"range":[192,15]},"axis":{"orient":"left","offset":-28,"title":null,"values":[0.1,1,10,100],"labelExpr":"datum.value<0.5?'0,1':format(datum.value,'d')","labelFontSize":7,"labelColor":"#000","tickColor":"#000","tickSize":6,"labelPadding":1,"domainColor":"#000"}},
    "color":{"field":"s","type":"nominal","scale":{"domain":["r","m","g","c","b","lb"],"range":["#FF0000","#FF00FF","#99CC00","#00FFFF","#0000FF","#00B0F0"]},"legend":null}}},
  {"data":{"name":"d"},"transform":[{"filter":"datum.p=='C3' && datum.s!='lb'"}],"mark":{"type":"point","filled":true,"size":26,"strokeWidth":1,"opacity":1},
   "encoding":{
    "x":{"field":"c","type":"nominal","axis":{"orient":"top","offset":-15,"title":null,"labels":false,"ticks":false,"domainColor":"#808080"}},
    "y":{"field":"v","type":"quantitative","axis":{"orient":"right","offset":-6,"title":null,"labels":false,"ticks":false,"domainColor":"#808080"}},
    "color":{"field":"s","type":"nominal","legend":null},
    "stroke":{"field":"s","type":"nominal","scale":{"domain":["r","m","g","c","b","lb"],"range":["#FF0000","#FF00FF","#99CC00","#00FFFF","#0000FF","#00B0F0"]},"legend":null},
    "shape":{"field":"s","type":"nominal","scale":{"domain":["r","m","g","c","b"],"range":["diamond","square","triangle-up","M-1,-1L1,1M-1,1L1,-1","M-1,0L1,0M0,-1L0,1M-0.7,-0.7L0.7,0.7M-0.7,0.7L0.7,-0.7"]},"legend":null}}},
  {"data":{"name":"d"},"transform":[{"filter":"datum.p=='C3' && datum.s=='lb'"}],"mark":{"type":"point","shape":"square","filled":true,"size":40,"color":"#00B0F0","opacity":1},
   "encoding":{
    "x":{"field":"c","type":"nominal","axis":{"orient":"bottom","offset":-15,"labels":false,"ticks":false,"domainColor":"#808080","title":"12 h","titleX":321,"titleY":-7,"titleAlign":"right","titleBaseline":"alphabetic","titleFontSize":8,"titleFontWeight":"normal","titleColor":"#000"}},
    "y":{"field":"v","type":"quantitative","axis":null}}},
  {"data":{"name":"d"},"transform":[{"filter":"datum.p=='C3' && datum.s=='lb'"}],"mark":{"type":"point","shape":"M-1,0L1,0M0,-1L0,1","filled":false,"size":16,"stroke":"#FFFFFF","strokeWidth":1.3,"opacity":1},
   "encoding":{"x":{"field":"c","type":"nominal","axis":null},"y":{"field":"v","type":"quantitative","axis":null}}},
  {"data":{"name":"br"},"transform":[{"filter":"datum.p=='C3'"}],"mark":{"type":"rule","color":"#FF0000","strokeWidth":2,"strokeDash":[5,4]},
   "encoding":{"x":{"field":"c","type":"nominal","axis":null},"y":{"field":"lo","type":"quantitative","axis":null},"y2":{"field":"hi"}}},
  {"data":{"name":"br"},"transform":[{"filter":"datum.p=='C3'"}],"mark":{"type":"line","color":"#FF0000","strokeWidth":2,"strokeDash":[5,4]},
   "encoding":{"x":{"field":"c","type":"nominal","axis":null},"y":{"field":"mid","type":"quantitative","axis":null}}},
  {"data":{"name":"br"},"transform":[{"filter":"datum.p=='C3' && datum.c=='EPI'"}],"mark":{"type":"text","color":"#FF0000","fontSize":22,"baseline":"alphabetic","align":"center"},
   "encoding":{"x":{"field":"c","type":"nominal","bandPosition":0,"axis":null},"y":{"field":"ty","type":"quantitative","axis":null},"text":{"field":"txt"}}}
 ]},
{"width":330,"height":207,
 "title":{"text":"4","orient":"bottom","anchor":"start","frame":"group","dx":-19,"offset":-3,"baseline":"alphabetic","fontSize":23,"fontWeight":"normal"},
 "resolve":{"axis":{"x":"independent","y":"independent"}},
 "layer":[
  {"data":{"name":"d"},"transform":[{"filter":"datum.p=='C4'"}],"mark":{"type":"line","strokeWidth":1.2},
   "encoding":{
    "x":{"field":"c","type":"nominal","scale":{"type":"band","domain":["RPMI","EPI"],"range":[29,331],"paddingInner":0,"paddingOuter":0},"axis":{"orient":"bottom","offset":-74,"title":null,"domainColor":"#000","tickColor":"#000","tickSize":3,"tickBand":"extent","labelFontSize":9.5,"labelColor":"#000","labelPadding":6,"labelAngle":0}},
    "y":{"field":"v","type":"quantitative","scale":{"type":"log","domain":[0.1,100],"range":[192,15]},"axis":{"orient":"left","offset":-29,"title":null,"values":[0.1,1,10,100],"labelExpr":"datum.value<0.5?'0,1':format(datum.value,'d')","labelFontSize":7,"labelColor":"#000","tickColor":"#000","tickSize":6,"labelPadding":1,"domainColor":"#000"}},
    "color":{"field":"s","type":"nominal","scale":{"domain":["r","m","g","c","b","lb"],"range":["#FF0000","#FF00FF","#99CC00","#00FFFF","#0000FF","#00B0F0"]},"legend":null}}},
  {"data":{"name":"d"},"transform":[{"filter":"datum.p=='C4' && datum.s!='lb'"}],"mark":{"type":"point","filled":true,"size":26,"strokeWidth":1,"opacity":1},
   "encoding":{
    "x":{"field":"c","type":"nominal","axis":{"orient":"top","offset":-15,"title":null,"labels":false,"ticks":false,"domainColor":"#808080"}},
    "y":{"field":"v","type":"quantitative","axis":null},
    "color":{"field":"s","type":"nominal","legend":null},
    "stroke":{"field":"s","type":"nominal","scale":{"domain":["r","m","g","c","b","lb"],"range":["#FF0000","#FF00FF","#99CC00","#00FFFF","#0000FF","#00B0F0"]},"legend":null},
    "shape":{"field":"s","type":"nominal","scale":{"domain":["r","m","g","c","b"],"range":["diamond","square","triangle-up","M-1,-1L1,1M-1,1L1,-1","M-1,0L1,0M0,-1L0,1M-0.7,-0.7L0.7,0.7M-0.7,0.7L0.7,-0.7"]},"legend":null}}},
  {"data":{"name":"d"},"transform":[{"filter":"datum.p=='C4' && datum.s=='lb'"}],"mark":{"type":"point","shape":"square","filled":true,"size":40,"color":"#00B0F0","opacity":1},
   "encoding":{
    "x":{"field":"c","type":"nominal","axis":{"orient":"bottom","offset":-15,"labels":false,"ticks":false,"domainColor":"#808080","title":"24 h","titleX":323,"titleY":-7,"titleAlign":"right","titleBaseline":"alphabetic","titleFontSize":8,"titleFontWeight":"normal","titleColor":"#000"}},
    "y":{"field":"v","type":"quantitative","axis":null}}},
  {"data":{"name":"d"},"transform":[{"filter":"datum.p=='C4' && datum.s=='lb'"}],"mark":{"type":"point","shape":"M-1,0L1,0M0,-1L0,1","filled":false,"size":16,"stroke":"#FFFFFF","strokeWidth":1.3,"opacity":1},
   "encoding":{"x":{"field":"c","type":"nominal","axis":null},"y":{"field":"v","type":"quantitative","axis":null}}}
 ]}
]
}
